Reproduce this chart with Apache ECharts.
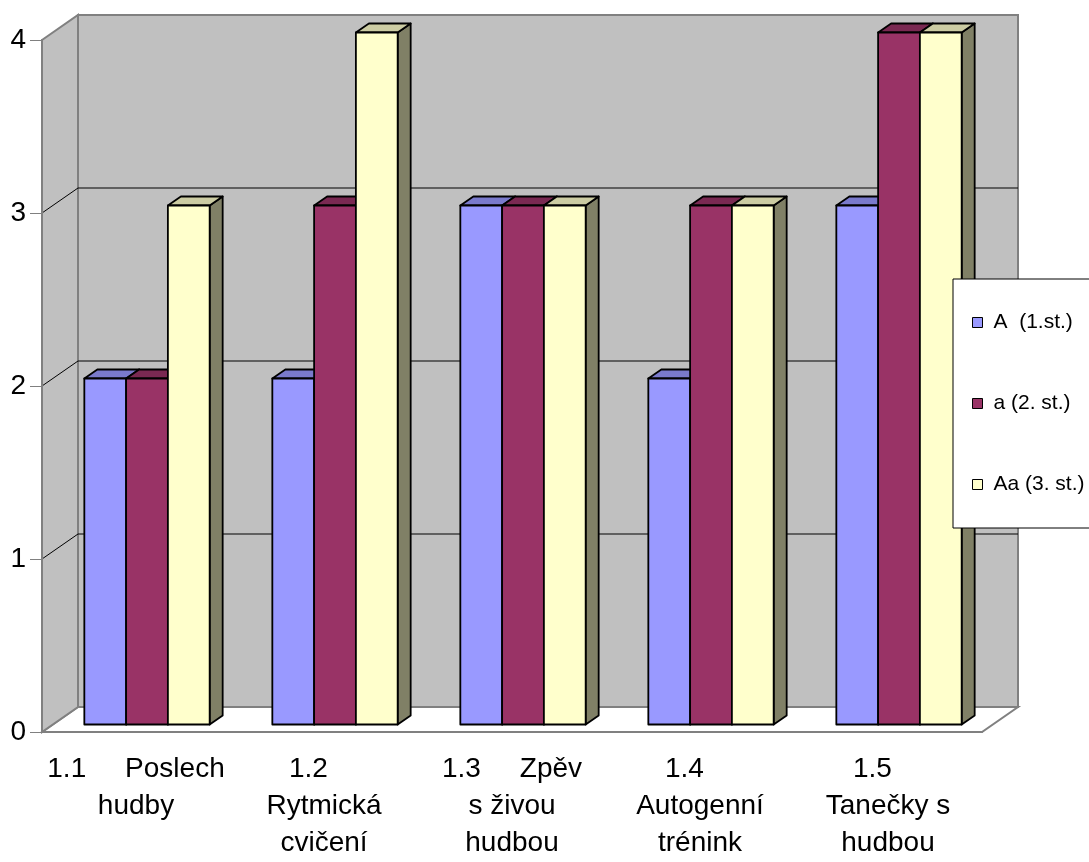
<!DOCTYPE html>
<html>
<head>
<meta charset="utf-8">
<title>Hudební činnosti</title>
<script src="https://cdn.jsdelivr.net/npm/echarts@6/dist/echarts.min.js"></script>
<style>
  html, body { margin: 0; padding: 0; background: #fff; }
  #chart { width: 1089px; height: 862px; }
</style>
</head>
<body>
<div id="chart"></div>
<script>
// Categories (line breaks as they wrap under the axis)
const categories = [
  '1.1     Poslech\nhudby',
  '1.2    \nRytmická\ncvičení',
  '1.3     Zpěv\ns živou\nhudbou',
  '1.4    \nAutogenní\ntrénink',
  '1.5    \nTanečky s\nhudbou'
];
const seriesNames = ['A  (1.st.)', 'a (2. st.)', 'Aa (3. st.)'];
const valuesA  = [2, 2, 3, 2, 3];
const valuesA2 = [2, 3, 3, 3, 4];
const valuesAa = [3, 4, 3, 3, 4];
const yTicks = [0, 1, 2, 3, 4];

const seriesValues = [valuesA, valuesA2, valuesAa];
const seriesColors = ['#9999FF', '#993366', '#FFFFCC'];

// 3D look: offset of the back wall, of the bars' front faces, and bar depth
const WALL = [36, -25];
const FRONT = [11, -7.5];
const DEPTH = [13, -9];
const BAR_FRAC = 2 / 9;   // bar width as a share of one category band

function shade(hex, k) {
  const n = parseInt(hex.slice(1), 16);
  const r = Math.round(((n >> 16) & 255) * k);
  const g = Math.round(((n >> 8) & 255) * k);
  const b = Math.round((n & 255) * k);
  return 'rgb(' + r + ',' + g + ',' + b + ')';
}

function barRenderer(idx, color) {
  return function (params, api) {
    const cat = api.value(0);
    const val = api.value(1);
    const base = api.coord([cat, 0]);
    const top = api.coord([cat, val]);
    const band = api.size([1, 0])[0];
    const bw = band * BAR_FRAC;
    const x0 = base[0] - 1.5 * bw + idx * bw + FRONT[0];
    const x1 = x0 + bw;
    const yb = base[1] + FRONT[1];
    const yt = top[1] + FRONT[1];
    const dx = DEPTH[0], dy = DEPTH[1];
    const edge = { stroke: '#000', lineWidth: 1.8, lineJoin: 'round' };
    return {
      type: 'group',
      children: [
        { type: 'polygon',
          shape: { points: [[x1, yt], [x1 + dx, yt + dy], [x1 + dx, yb + dy], [x1, yb]] },
          style: Object.assign({ fill: shade(color, 0.5) }, edge) },
        { type: 'polygon',
          shape: { points: [[x0, yt], [x0 + dx, yt + dy], [x1 + dx, yt + dy], [x1, yt]] },
          style: Object.assign({ fill: shade(color, 0.8) }, edge) },
        { type: 'rect',
          shape: { x: x0, y: yt, width: bw, height: yb - yt },
          style: Object.assign({ fill: color }, edge) }
      ]
    };
  };
}

function wallRenderer(params, api) {
  const cs = params.coordSys;
  const xl = cs.x, xr = cs.x + cs.width;
  const y0 = api.coord([0, yTicks[0]])[1];
  const yTop = api.coord([0, yTicks[yTicks.length - 1]])[1];
  const dx = WALL[0], dy = WALL[1];
  const wallStyle = { fill: '#C0C0C0', stroke: '#808080', lineWidth: 2 };
  const children = [
    // floor
    { type: 'polygon',
      shape: { points: [[xl, y0], [xl + dx, y0 + dy], [xr + dx, y0 + dy], [xr, y0]] },
      style: { fill: '#FFFFFF', stroke: '#808080', lineWidth: 2 } },
    // back wall
    { type: 'polygon',
      shape: { points: [[xl + dx, yTop + dy], [xr + dx, yTop + dy], [xr + dx, y0 + dy], [xl + dx, y0 + dy]] },
      style: wallStyle },
    // side wall
    { type: 'polygon',
      shape: { points: [[xl, yTop], [xl + dx, yTop + dy], [xl + dx, y0 + dy], [xl, y0]] },
      style: wallStyle }
  ];
  yTicks.slice(1, -1).forEach(function (v) {
    const y = api.coord([0, v])[1];
    children.push({ type: 'polyline',
      shape: { points: [[xl, y], [xl + dx, y + dy], [xr + dx, y + dy]] },
      style: { fill: null, stroke: '#000', lineWidth: 1 } });
  });
  return { type: 'group', children: children };
}

const FONT = '"Liberation Sans", Arial, sans-serif';

const series = [{
  type: 'custom',
  name: 'walls',
  silent: true,
  clip: false,
  z: 1,
  data: [[0, 0]],
  encode: { x: 0, y: 1 },
  renderItem: wallRenderer
}];
seriesValues.forEach(function (vals, i) {
  series.push({
    type: 'custom',
    name: seriesNames[i],
    clip: false,
    z: 2,
    itemStyle: { color: seriesColors[i] },
    data: vals.map(function (v, c) { return [c, v]; }),
    encode: { x: 0, y: 1 },
    renderItem: barRenderer(i, seriesColors[i])
  });
});

const chart = echarts.init(document.getElementById('chart'), null, { renderer: 'canvas' });
chart.setOption({
  backgroundColor: '#ffffff',
  animation: false,
  textStyle: { fontFamily: FONT },
  grid: { left: 42, right: 107, top: 40, bottom: 127, containLabel: false },
  xAxis: {
    type: 'category',
    data: categories,
    boundaryGap: true,
    z: 3,
    axisLine: { show: true, lineStyle: { color: '#808080', width: 2 } },
    axisTick: { show: false },
    splitLine: { show: false },
    axisLabel: {
      interval: 0,
      margin: 19,
      color: '#000',
      fontSize: 28,
      lineHeight: 37,
      fontFamily: FONT
    }
  },
  yAxis: {
    type: 'value',
    min: 0,
    max: 4,
    interval: 1,
    z: 3,
    axisLine: { show: true, lineStyle: { color: '#808080', width: 2 } },
    axisTick: { show: true, length: 12, lineStyle: { color: '#808080', width: 1 } },
    splitLine: { show: false },
    axisLabel: { margin: 16, color: '#000', fontSize: 28, fontFamily: FONT }
  },
  legend: {
    data: seriesNames,
    orient: 'vertical',
    left: 953,
    top: 279,
    padding: [33, 40, 33, 19],
    itemGap: 60,
    itemWidth: 10,
    itemHeight: 10,
    icon: 'rect',
    itemStyle: { borderColor: '#000', borderWidth: 1 },
    backgroundColor: '#ffffff',
    borderColor: '#000',
    borderWidth: 1,
    selectedMode: false,
    textStyle: { fontSize: 21, lineHeight: 21, color: '#000', fontFamily: FONT, padding: [0, 0, 0, 6] }
  },
  series: series
});
</script>
</body>
</html>
